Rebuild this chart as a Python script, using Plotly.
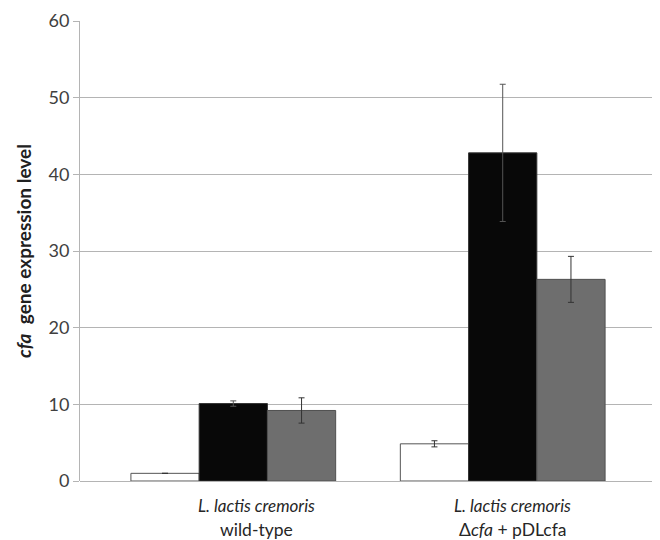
import plotly.graph_objects as go

categories = ["wild-type", "Δcfa + pDLcfa"]
series_names = ["Condition A", "Condition B", "Condition C"]
values_white = [1.0, 4.85]
values_black = [10.1, 42.8]
values_gray = [9.2, 26.3]
err_white = [0.0, 0.4]
err_black = [0.35, 8.95]
err_gray = [1.65, 3.0]
y_ticks = [0, 10, 20, 30, 40, 50, 60]

label_line1 = ["<i>L. lactis cremoris</i>", "<i>L. lactis cremoris</i>"]
label_line2 = ["wild-type", "Δ<i>cfa</i> + pDLcfa"]

FONT = "Lato, 'Liberation Sans', sans-serif"

# page has an 8px body margin; figure is sized to fit the 660x540 window
W, H = 652, 532
L, R, T, B = 72, 4, 13, 59
PH = H - T - B
PW = W - L - R

fig = go.Figure()
styles = [
    (values_white, err_white, "#ffffff", "#555555", "#333333"),
    (values_black, err_black, "#080808", "#333333", "#555555"),
    (values_gray, err_gray, "#6e6e6e", "#505050", "#333333"),
]
for name, (vals, errs, fill, edge, ecol) in zip(series_names, styles):
    fig.add_trace(go.Bar(
        x=categories, y=vals, name=name,
        marker=dict(color=fill, line=dict(color=edge, width=1)),
        error_y=dict(type="data", array=errs, color=ecol, thickness=1, width=3, visible=True),
    ))

fig.update_layout(
    width=W, height=H,
    margin=dict(l=L, r=R, t=T, b=B, autoexpand=False),
    paper_bgcolor="white", plot_bgcolor="white",
    barmode="group", bargap=0.24, bargroupgap=0,
    showlegend=False,
    font=dict(family=FONT, size=18, color="#404040"),
)
fig.update_xaxes(
    range=[-0.569, 1.569], showticklabels=False, showgrid=False,
    showline=False, ticks="", zeroline=False,
)
fig.update_yaxes(
    range=[0, 60], tickvals=y_ticks, showgrid=True, gridcolor="#b4b4b4", gridwidth=1,
    showline=True, linecolor="#b4b4b4", linewidth=1,
    ticks="outside", ticklen=6, tickcolor="#b4b4b4",
    zeroline=True, zerolinecolor="#b4b4b4", zerolinewidth=1,
    tickfont=dict(size=18, color="#404040"), automargin=False,
    title=dict(text="<b><i>cfa</i>  gene expression level</b>",
               font=dict(size=19, color="#202020"), standoff=11),
)

label_x_px = [256 - 8, 512 - 8]
for xp, l1, l2 in zip(label_x_px, label_line1, label_line2):
    xpaper = (xp - L) / PW
    fig.add_annotation(x=xpaper, y=-(505 - 480.7) / PH, xref="paper", yref="paper",
                       text=l1, showarrow=False, xanchor="center", yanchor="middle",
                       font=dict(size=17, color="#262626"))
    fig.add_annotation(x=xpaper, y=-(529 - 480.7) / PH, xref="paper", yref="paper",
                       text=l2, showarrow=False, xanchor="center", yanchor="middle",
                       font=dict(size=17.5, color="#262626"))

fig.write_html("out.html")
